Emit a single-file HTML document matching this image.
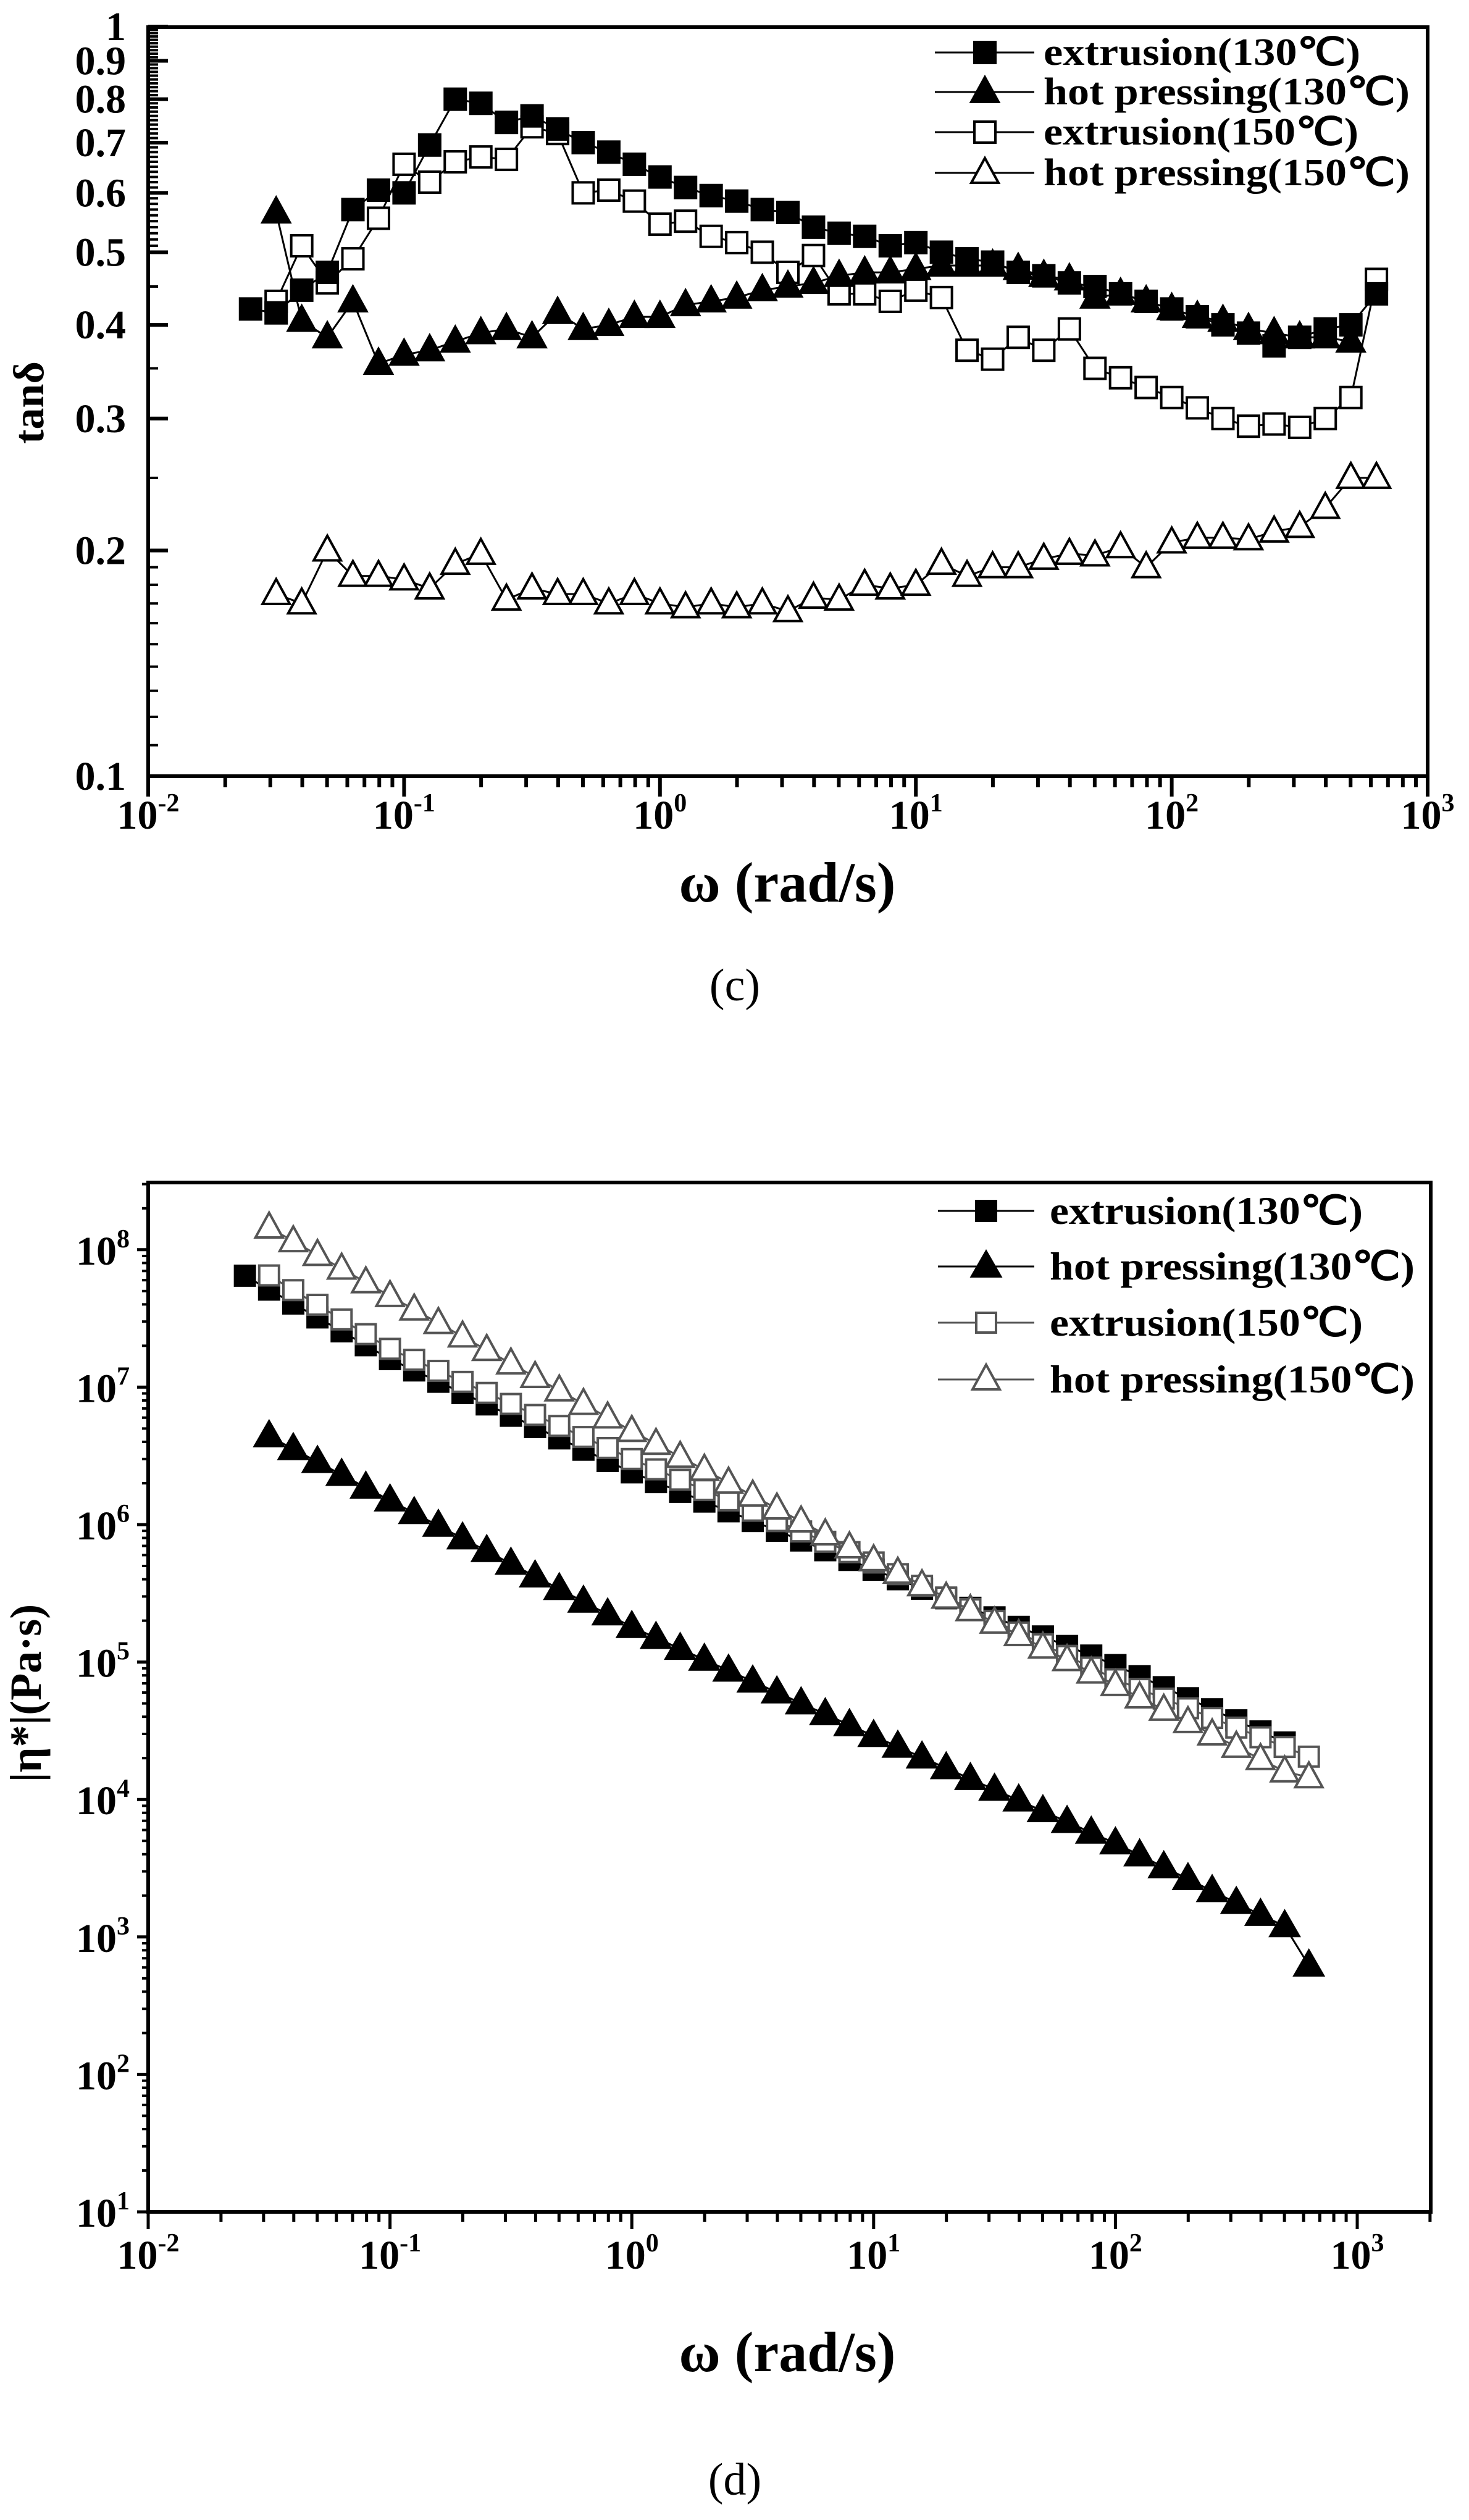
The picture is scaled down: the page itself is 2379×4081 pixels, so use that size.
<!DOCTYPE html>
<html><head><meta charset="utf-8"><style>
html,body{margin:0;padding:0;background:#fff;}
svg{display:block;font-family:"Liberation Serif","Times New Roman",serif;}
</style></head><body>
<svg id="s" width="2379" height="4081" xmlns="http://www.w3.org/2000/svg" font-family="Liberation Serif, serif"></svg>
<script>
const s=document.getElementById('s');let h='';
const L=Math.log10;
const X=w=>240+(L(w)+2)*414.4, Y=v=>1257-(L(v)+1)*1214;
const Xb=w=>240+(L(w)+2)*391.6, Yb=v=>3582-(L(v)-1)*222.6;
function sq(x,y,sz,fill,stroke){return `<rect x="${x-sz/2}" y="${y-sz/2}" width="${sz}" height="${sz}" fill="${fill}" stroke="${stroke}" stroke-width="4"/>`;}
function tri(x,y,w,ht,fill,stroke){return `<polygon points="${x},${y-ht*0.6} ${x-w/2},${y+ht*0.4} ${x+w/2},${y+ht*0.4}" fill="${fill}" stroke="${stroke}" stroke-width="4" stroke-linejoin="miter"/>`;}
const om=k=>Math.pow(10,k/10);
h+=`<rect x="240" y="44" width="2072" height="1213" fill="none" stroke="#000" stroke-width="6"/>`;
for(let v=0.10;v<=1.0001;v+=0.01){const vv=Math.round(v*100)/100;const y=Y(vv);
 const major=Math.abs(vv*10-Math.round(vv*10))<1e-6;
 if(major){h+=`<line x1="240" y1="${y}" x2="272" y2="${y}" stroke="#000" stroke-width="6"/>`;}
 else if(vv<0.2||vv>0.5){h+=`<line x1="240" y1="${y}" x2="256" y2="${y}" stroke="#000" stroke-width="4"/>`;}
 else if(Math.abs(vv*20-Math.round(vv*20))<1e-6){h+=`<line x1="240" y1="${y}" x2="256" y2="${y}" stroke="#000" stroke-width="4"/>`;}
}
const yl=['0.1','0.2','0.3','0.4','0.5','0.6','0.7','0.8','0.9','1'];
yl.forEach(t=>{h+=`<text x="204" y="${Y(+t)+22}" font-size="66" font-weight="bold" text-anchor="end">${t}</text>`;});
for(let d=-2;d<=3;d++){for(let m=1;m<10;m++){const w=m*Math.pow(10,d);if(d==3&&m>1)break;const x=X(w);
 h+=`<line x1="${x}" y1="1257" x2="${x}" y2="${m==1?1290:1275}" stroke="#000" stroke-width="6"/>`;}
 h+=`<text x="${X(Math.pow(10,d))}" y="1342" font-size="66" font-weight="bold" text-anchor="middle">10<tspan font-size="42" dy="-28">${d}</tspan></text>`;}
h+=`<text x="1275" y="1460" font-size="92" font-weight="bold" text-anchor="middle">ω (rad/s)</text>`;
h+=`<text transform="translate(70,652) rotate(-90)" font-size="70" font-weight="bold" text-anchor="middle">tanδ</text>`;
h+=`<text x="1190" y="1620" font-size="74" text-anchor="middle">(c)</text>`;
const e130=[[-16,.42],[-15,.415],[-14,.445],[-13,.47],[-12,.57],[-11,.605],[-10,.60],[-9,.695],[-8,.80],[-7,.79],[-6,.745],[-5,.76],[-4,.73],[-3,.70],[-2,.68],[-1,.655],[0,.63],[1,.61],[2,.595],[3,.585],[4,.57],[5,.565],[6,.54],[7,.53],[8,.525],[9,.51],[10,.515],[11,.50],[12,.49],[13,.485],[14,.47],[15,.465],[16,.455],[17,.45],[18,.44],[19,.43],[20,.42],[21,.41],[22,.40],[23,.39],[24,.375],[25,.385],[26,.395],[27,.40],[28,.44]];
const hp130=[[-15,.565],[-14,.405],[-13,.385],[-12,.43],[-11,.355],[-10,.365],[-9,.37],[-8,.38],[-7,.39],[-6,.395],[-5,.385],[-4,.415],[-3,.395],[-2,.40],[-1,.41],[0,.41],[1,.425],[2,.43],[3,.435],[4,.445],[5,.45],[6,.455],[7,.465],[8,.47],[9,.47],[10,.475],[11,.48],[12,.48],[13,.48],[14,.475],[15,.465],[16,.46],[17,.435],[18,.44],[19,.43],[20,.42],[21,.41],[22,.405],[23,.395],[24,.39],[25,.385],[26,.385],[27,.38]];
const e150=[[-15,.43],[-14,.51],[-13,.455],[-12,.49],[-11,.555],[-10,.655],[-9,.62],[-8,.66],[-7,.67],[-6,.665],[-5,.735],[-4,.72],[-3,.60],[-2,.605],[-1,.585],[0,.545],[1,.55],[2,.525],[3,.515],[4,.50],[5,.47],[6,.495],[7,.44],[8,.44],[9,.43],[10,.445],[11,.435],[12,.37],[13,.36],[14,.385],[15,.37],[16,.395],[17,.35],[18,.34],[19,.33],[20,.32],[21,.31],[22,.30],[23,.293],[24,.295],[25,.292],[26,.30],[27,.32],[28,.46]];
const hp150=[[-15,.175],[-14,.17],[-13,.20],[-12,.185],[-11,.185],[-10,.183],[-9,.178],[-8,.192],[-7,.198],[-6,.172],[-5,.178],[-4,.175],[-3,.175],[-2,.17],[-1,.175],[0,.17],[1,.168],[2,.17],[3,.168],[4,.17],[5,.166],[6,.173],[7,.172],[8,.18],[9,.178],[10,.18],[11,.192],[12,.185],[13,.19],[14,.19],[15,.195],[16,.198],[17,.197],[18,.202],[19,.19],[20,.205],[21,.208],[22,.208],[23,.207],[24,.212],[25,.215],[26,.228],[27,.25],[28,.25]];
function series(d,fx,fy,mk,lc,lw){let p=d.map(a=>fx(om(a[0])).toFixed(1)+','+fy(a[1]).toFixed(1)).join(' ');
 let r=`<polyline points="${p}" fill="none" stroke="${lc}" stroke-width="${lw}"/>`;d.forEach(a=>{r+=mk(fx(om(a[0])),fy(a[1]));});return r;}
h+=series(hp150,X,Y,(x,y)=>tri(x,y,44,40,'#fff','#000'),'#000',3);
h+=series(e150,X,Y,(x,y)=>sq(x,y,34,'#fff','#000'),'#000',3);
h+=series(hp130,X,Y,(x,y)=>tri(x,y,44,40,'#000','#000'),'#000',3);
h+=series(e130,X,Y,(x,y)=>sq(x,y,34,'#000','#000'),'#000',3);
const lg=[['extrusion(130℃)',513,(x,y)=>sq(x,y,34,'#000','#000')],['hot pressing(130℃)',593,(x,y)=>tri(x,y,44,40,'#000','#000')],['extrusion(150℃)',510,(x,y)=>sq(x,y,34,'#fff','#000')],['hot pressing(150℃)',593,(x,y)=>tri(x,y,44,40,'#fff','#000')]];
[85,149,214,280].forEach((y,i)=>{h+=`<line x1="1514" y1="${y}" x2="1675" y2="${y}" stroke="#000" stroke-width="3"/>`+lg[i][2](1595,y)+`<text x="1690" y="${y+20}" font-size="62" font-weight="bold" textLength="${lg[i][1]}" lengthAdjust="spacingAndGlyphs">${lg[i][0]}</text>`;});
h+=`<rect x="240" y="1915" width="2077" height="1667" fill="none" stroke="#000" stroke-width="6"/>`;
for(let e=1;e<=8;e++){const y=Yb(Math.pow(10,e));h+=`<line x1="222" y1="${y}" x2="240" y2="${y}" stroke="#000" stroke-width="5"/>`;
 h+=`<text x="210" y="${y+24}" font-size="66" font-weight="bold" text-anchor="end">10<tspan font-size="42" dy="-28">${e}</tspan></text>`;
 for(let m=2;m<10;m++){const yy=Yb(m*Math.pow(10,e));if(yy<1915)break;h+=`<line x1="230" y1="${yy}" x2="240" y2="${yy}" stroke="#000" stroke-width="4"/>`;}}
for(let d=-2;d<=3;d++){for(let m=1;m<10;m++){const w=m*Math.pow(10,d);const x=Xb(w);if(x>2317)break;
 h+=`<line x1="${x}" y1="3582" x2="${x}" y2="${m==1?3610:3598}" stroke="#000" stroke-width="5"/>`;}
 h+=`<text x="${Xb(Math.pow(10,d))}" y="3674" font-size="66" font-weight="bold" text-anchor="middle">10<tspan font-size="42" dy="-28">${d}</tspan></text>`;}
h+=`<text x="1275" y="3840" font-size="92" font-weight="bold" text-anchor="middle">ω (rad/s)</text>`;
h+=`<text transform="translate(66,2742) rotate(-90)" font-size="72" font-weight="bold" text-anchor="middle">|η*|(Pa·s)</text>`;
h+=`<text x="1190" y="4040" font-size="74" text-anchor="middle">(d)</text>`;
function interp(anch,k){const lw=k/10;for(let i=0;i<anch.length-1;i++){const a=L(anch[i][0]),b=L(anch[i+1][0]);if(lw<=b+1e-9||i==anch.length-2){const t=(lw-a)/(b-a);return Math.pow(10,L(anch[i][1])+t*(L(anch[i+1][1])-L(anch[i][1])));}}}
function gen(anch,k0,k1){const r=[];for(let k=k0;k<=k1;k++){r.push([k,interp(anch,k)]);}return r;}
const be130=gen([[0.025,6.5e7],[0.1,1.6e7],[1,2.4e6],[10,4.7e5],[100,9.5e4],[501,2.6e4]],-16,27);
const be150=gen([[0.0316,6.5e7],[0.1,1.9e7],[1,3.0e6],[10,5.3e5],[100,7.5e4],[631,2.05e4]],-15,28);
const bh150=gen([[0.0316,1.45e8],[0.1,4.6e7],[1,4.8e6],[10,5.5e5],[100,6.8e4],[501,1.6e4],[631,1.45e4]],-15,28);
const bh130=gen([[0.0316,4.4e6],[0.1,1.5e6],[1,1.8e5],[10,2.9e4],[100,4.8e3],[398,1.45e3],[501,1.2e3],[631,620]],-15,28);
h+=series(be130,Xb,Yb,(x,y)=>sq(x,y,32,'#000','#000'),'#000',3);
h+=series(be150,Xb,Yb,(x,y)=>sq(x,y,32,'#fff','#555'),'#555',3);
h+=series(bh150,Xb,Yb,(x,y)=>tri(x,y,44,40,'#fff','#555'),'#555',3);
h+=series(bh130,Xb,Yb,(x,y)=>tri(x,y,46,40,'#000','#000'),'#000',3);
const lg2=[['extrusion(130℃)',507,(x,y)=>sq(x,y,32,'#000','#000'),'#000'],['hot pressing(130℃)',591,(x,y)=>tri(x,y,46,40,'#000','#000'),'#000'],['extrusion(150℃)',507,(x,y)=>sq(x,y,32,'#fff','#555'),'#555'],['hot pressing(150℃)',591,(x,y)=>tri(x,y,44,40,'#fff','#555'),'#555']];
[1961,2051,2142,2234].forEach((y,i)=>{h+=`<line x1="1519" y1="${y}" x2="1675" y2="${y}" stroke="${lg2[i][3]}" stroke-width="3"/>`+lg2[i][2](1597,y)+`<text x="1700" y="${y+21}" font-size="64" font-weight="bold" textLength="${lg2[i][1]}" lengthAdjust="spacingAndGlyphs">${lg2[i][0]}</text>`;});
s.innerHTML=h;
</script>
</body></html>
